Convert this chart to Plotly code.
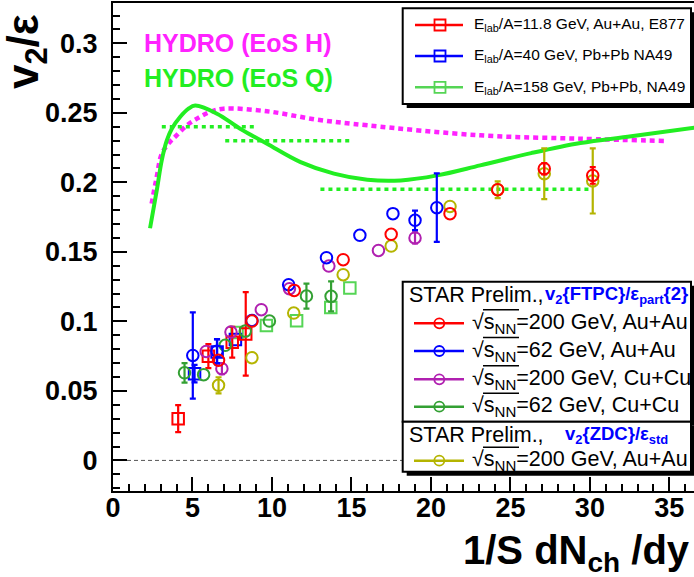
import plotly.graph_objects as go

# ---------------- data ----------------
# Hydro curves
hydroQ_x = [2.33, 2.75, 3.07, 3.38, 3.70, 4.22, 4.75, 5.17, 6.54, 8.0, 9.69, 11.8, 13.9, 16.0, 18.1, 20.4, 23.1, 26.3, 29.4, 32.6, 36.6]
hydroQ_y = [0.167, 0.194, 0.216, 0.230, 0.2386, 0.247, 0.253, 0.2552, 0.2494, 0.2386, 0.2278, 0.2146, 0.2063, 0.2019, 0.2014, 0.205, 0.2122, 0.221, 0.2283, 0.2331, 0.2393]
hydroH_x = [2.43, 2.75, 3.07, 3.58, 4.0, 4.64, 5.28, 6.1, 6.96, 9.69, 12.84, 16.0, 23.1, 29.4, 34.9]
hydroH_y = [0.1847, 0.2038, 0.2206, 0.229, 0.2338, 0.241, 0.2458, 0.2506, 0.253, 0.2511, 0.2451, 0.241, 0.2338, 0.2314, 0.2297]
# Dotted horizontal segments (green)
seg_x0 = [3.07, 7.06, 13.05]
seg_x1 = [9.06, 15.05, 30.07]
seg_y = [0.240, 0.230, 0.195]

# E877 11.8 GeV Au+Au (red squares)
e877_x = [4.1, 6.0, 7.5, 8.35]
e877_y = [0.030, 0.075, 0.085, 0.091]
e877_e = [0.0097, 0.0086, 0.011, 0.030]
# NA49 40 GeV (blue squares)
na40_x = [5.13, 6.55, 7.7]
na40_y = [0.0624, 0.078, 0.087]
na40_e = [0.0063, 0.009, 0.0]
# NA49 158 GeV (light green squares)
na158_x = [7.8, 9.65, 11.55, 13.7, 14.9]
na158_y = [0.092, 0.097, 0.1005, 0.110, 0.124]
na158_e = [0.0, 0.0, 0.0, 0.0, 0.0]
# STAR 200 GeV Au+Au (red circles)
au200_x = [6.64, 8.74, 11.4, 14.48, 17.5, 21.2, 24.2, 27.13, 30.18]
au200_y = [0.072, 0.1002, 0.1223, 0.1444, 0.1626, 0.1775, 0.1947, 0.2098, 0.205]
au200_e = [0.0, 0.0, 0.0, 0.0, 0.0, 0.0, 0.0, 0.004, 0.006]
# STAR 62 GeV Au+Au (blue circles)
au62_x = [5.02, 6.54, 8.74, 11.05, 13.43, 15.53, 17.61, 19.0, 20.37]
au62_y = [0.0755, 0.0786, 0.1007, 0.1264, 0.1458, 0.1619, 0.1775, 0.1727, 0.1818]
au62_e = [0.031, 0.0086, 0.0, 0.0, 0.0, 0.0, 0.0, 0.007, 0.0246]
# STAR 200 GeV Cu+Cu (magenta circles)
cu200_x = [5.86, 6.85, 7.42, 9.33, 11.1, 13.58, 16.7, 19.0]
cu200_y = [0.0784, 0.066, 0.0923, 0.1084, 0.1235, 0.1398, 0.151, 0.160]
cu200_e = [0.0, 0.004, 0.0, 0.0, 0.0, 0.0, 0.0, 0.004]
# STAR 62 GeV Cu+Cu (green circles)
cu62_x = [4.5, 5.7, 7.06, 8.32, 9.84, 12.17, 13.72]
cu62_y = [0.063, 0.0617, 0.0828, 0.093, 0.1002, 0.1182, 0.118]
cu62_e = [0.007, 0.0, 0.0, 0.0, 0.0, 0.009, 0.0108]
# STAR ZDC 200 GeV Au+Au (olive circles)
zdc_x = [6.64, 8.74, 11.37, 14.48, 17.5, 21.2, 24.2, 27.13, 30.18]
zdc_y = [0.054, 0.0739, 0.106, 0.1336, 0.1542, 0.1827, 0.1947, 0.2062, 0.201]
zdc_e = [0.0058, 0.0, 0.0, 0.0, 0.0, 0.0, 0.006, 0.0183, 0.0234]

legend1_labels = ["E<sub>lab</sub>/A=11.8 GeV, Au+Au, E877",
                  "E<sub>lab</sub>/A=40 GeV, Pb+Pb NA49",
                  "E<sub>lab</sub>/A=158 GeV, Pb+Pb, NA49"]
legend2_labels = ["√s<sub>NN</sub>=200 GeV, Au+Au",
                  "√s<sub>NN</sub>=62 GeV, Au+Au",
                  "√s<sub>NN</sub>=200 GeV, Cu+Cu",
                  "√s<sub>NN</sub>=62 GeV, Cu+Cu",
                  "√s<sub>NN</sub>=200 GeV, Au+Au"]

X_RANGE = [0, 36.55]
Y_RANGE = [-0.022, 0.329]

RED = "#ff0000"
BLUE = "#0000ff"
MAG = "#b020b0"
GRN = "#33a033"
LGRN = "#55d555"
OLV = "#b4b400"
HQ = "#22ee22"
HH = "#ff22ff"

FONT = "Liberation Sans"

fig = go.Figure()

# zero line
fig.add_trace(go.Scatter(x=X_RANGE, y=[0, 0], mode="lines",
                         line=dict(color="#555555", width=1, dash="4px,3px"),
                         hoverinfo="skip", showlegend=False))

# hydro
fig.add_trace(go.Scatter(x=hydroH_x, y=hydroH_y, mode="lines", line_shape="spline",
                         line=dict(color=HH, width=4.5, dash="5px,4px"), showlegend=False))
fig.add_trace(go.Scatter(x=hydroQ_x, y=hydroQ_y, mode="lines", line_shape="spline",
                         line=dict(color=HQ, width=4), showlegend=False))
for a, b, yy in zip(seg_x0, seg_x1, seg_y):
    fig.add_trace(go.Scatter(x=[a, b], y=[yy, yy], mode="lines",
                             line=dict(color=HQ, width=3.5, dash="4px,4px"), showlegend=False))


def pts(x, y, e, color, symbol):
    # error bars only where the error is visible
    ex = [xi for xi, ei in zip(x, e) if ei > 0]
    ey = [yi for yi, ei in zip(y, e) if ei > 0]
    ee = [ei for ei in e if ei > 0]
    if ex:
        fig.add_trace(go.Scatter(
            x=ex, y=ey, mode="markers", showlegend=False, hoverinfo="skip",
            marker=dict(size=1, opacity=0),
            error_y=dict(type="data", array=ee, visible=True, color=color, thickness=2.2, width=3)))
    fig.add_trace(go.Scatter(
        x=x, y=y, mode="markers", showlegend=False,
        marker=dict(symbol=symbol, size=11.5, color=color, line=dict(color=color, width=2))))


pts(na158_x, na158_y, na158_e, LGRN, "square-open")
pts(na40_x, na40_y, na40_e, BLUE, "square-open")
pts(e877_x, e877_y, e877_e, RED, "square-open")
pts(zdc_x, zdc_y, zdc_e, OLV, "circle-open")
pts(cu62_x, cu62_y, cu62_e, GRN, "circle-open")
pts(cu200_x, cu200_y, cu200_e, MAG, "circle-open")
pts(au62_x, au62_y, au62_e, BLUE, "circle-open")
pts(au200_x, au200_y, au200_e, RED, "circle-open")

# ---------------- layout helpers (pixel -> paper) ----------------
L, R, T, B = 113, 694, 3, 491


def PX(p):
    return (p - L) / (R - L)


def PY(p):
    return (B - p) / (B - T)


shapes = []
ann = []


def box(x0, y0, x1, y1, sh=4):
    shapes.append(dict(type="rect", xref="paper", yref="paper", x0=PX(x0 + sh), x1=PX(x1 + sh),
                       y0=PY(y1 + sh), y1=PY(y0 + sh), fillcolor="black", line=dict(width=0), layer="above"))
    shapes.append(dict(type="rect", xref="paper", yref="paper", x0=PX(x0), x1=PX(x1),
                       y0=PY(y1), y1=PY(y0), fillcolor="white", line=dict(color="black", width=2), layer="above"))


def sample(y, color, sym, x0, x1, xm, size):
    shapes.append(dict(type="line", xref="paper", yref="paper", x0=PX(x0), x1=PX(x1), y0=PY(y), y1=PY(y),
                       line=dict(color=color, width=2.5), layer="above"))
    h = size / 2
    shapes.append(dict(type="rect" if sym == "square" else "circle", xref="paper", yref="paper",
                       x0=PX(xm - h), x1=PX(xm + h), y0=PY(y + h), y1=PY(y - h),
                       line=dict(color=color, width=1.8), fillcolor="rgba(0,0,0,0)", layer="above"))


def text(x, y, s, size, color="black", bold=False, anchor="left"):
    ann.append(dict(xref="paper", yref="paper", x=PX(x), y=PY(y), text=s, showarrow=False,
                    xanchor=anchor, yanchor="middle", borderpad=0,
                    font=dict(family=FONT, size=size, color=color, weight="bold" if bold else "normal")))


# legend 1
box(402.7, 8.3, 691, 104)
rows1 = [25, 56, 87.3]
cols1 = [RED, BLUE, LGRN]
for yy, c, lab in zip(rows1, cols1, legend1_labels):
    sample(yy, c, "square", 415, 463, 440, 11)
    text(473, yy, lab, 15.5)

# legend 2
box(402.7, 281.7, 691, 421.7)
box(402.7, 421.7, 691, 471.7)
rows2 = [323.3, 351, 379.3, 406.7, 460.7]
cols2 = [RED, BLUE, MAG, GRN, OLV]
for yy, c, lab in zip(rows2, cols2, legend2_labels):
    sample(yy, c, "circle", 414, 464, 439.3, 10)
    text(471, yy, lab, 21.5)
    shapes.append(dict(type="line", xref="paper", yref="paper", x0=PX(483), x1=PX(519),
                       y0=PY(yy - 13.5), y1=PY(yy - 13.5), line=dict(color="black", width=1.5), layer="above"))
text(408, 295, "STAR Prelim.,", 21.5)
text(544, 295, "v<sub>2</sub>{FTPC}/ε<sub>part</sub>{2}", 18.5, BLUE, True)
text(408, 435, "STAR Prelim.,", 21.5)
text(564, 435, "v<sub>2</sub>{ZDC}/ε<sub>std</sub>", 18.5, BLUE, True)

# hydro labels
text(143, 42.5, "HYDRO (EoS H)", 25, HH, True)
text(143, 77.5, "HYDRO (EoS Q)", 25, HQ, True)

# axis titles
text(691, 553, "1/S dN<sub>ch</sub> /dy", 40, "black", True, anchor="right")
ann.append(dict(xref="paper", yref="paper", x=PX(26), y=PY(52), text="v<sub>2</sub>/ε", showarrow=False,
                textangle=-90, xanchor="center", yanchor="middle", borderpad=0,
                font=dict(family=FONT, size=44, color="black", weight="bold")))

axis_common = dict(showgrid=False, zeroline=False, showline=True, linecolor="black", linewidth=2,
                   ticks="inside", ticklen=14, tickwidth=2, tickcolor="black",
                   tickfont=dict(family=FONT, size=27, color="black", weight="bold"))

fig.update_layout(
    width=694, height=577,
    margin=dict(l=L, r=694 - R, t=T, b=577 - B, pad=0),
    plot_bgcolor="white", paper_bgcolor="white",
    showlegend=False,
    xaxis=dict(range=X_RANGE, dtick=5, tick0=0, mirror=True, ticklabelstandoff=-8,
               minor=dict(dtick=1, ticks="inside", ticklen=7, tickwidth=1.5, tickcolor="black"),
               **axis_common),
    yaxis=dict(range=Y_RANGE, dtick=0.05, tick0=0, mirror=False, ticklabelstandoff=8,
               minor=dict(dtick=0.01, ticks="inside", ticklen=7, tickwidth=1.5, tickcolor="black"),
               **axis_common),
    shapes=shapes, annotations=ann,
)

fig.write_html("out.html", config={"displayModeBar": False},
               post_script="document.body.style.margin='0';document.body.style.overflow='hidden';")
